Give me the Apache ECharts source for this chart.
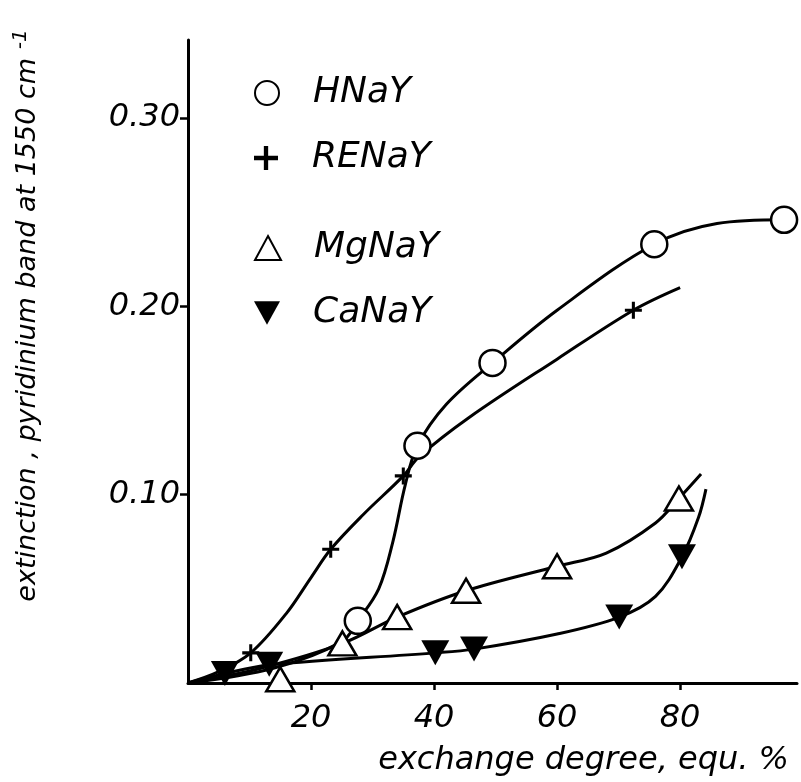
<!DOCTYPE html>
<html>
<head>
<meta charset="utf-8">
<script src="https://cdn.jsdelivr.net/npm/echarts@6/dist/echarts.min.js"></script>
<style>
  html, body { margin: 0; padding: 0; background: #fff; }
  #chart { width: 801px; height: 782px; }
</style>
</head>
<body>
<div id="chart"></div>
<script>
// measured points (exchange degree %, extinction)
const hnayPoints = [[27.6, 0.033], [37.3, 0.126], [49.5, 0.170], [75.8, 0.233], [96.9, 0.246]];
const renayPoints = [[10.2, 0.016], [23.2, 0.071], [35.0, 0.110], [72.4, 0.198]];
const mgnayPoints = [[15.0, 0.002], [25.1, 0.021], [34.0, 0.035], [45.2, 0.049], [60.0, 0.062], [79.8, 0.098]];
const canayPoints = [[6.0, 0.005], [13.2, 0.010], [40.2, 0.016], [46.5, 0.018], [70.1, 0.035], [80.3, 0.067]];

// hand drawn curves, read along the lines of the figure
const hnayCurve = [[0, 0], [14, 0.008], [25, 0.022], [27.6, 0.033], [31, 0.050], [33.3, 0.075], [35.3, 0.105], [37.3, 0.126], [42, 0.148], [49.5, 0.170], [60, 0.198], [75.8, 0.233], [86, 0.244], [96.9, 0.246]];
const renayCurve = [[0, 0], [5, 0.006], [10.2, 0.016], [16, 0.037], [20, 0.056], [23.2, 0.071], [28.5, 0.0895], [35, 0.110], [37.5, 0.120], [45.7, 0.141], [60, 0.172], [72.4, 0.198], [80, 0.210]];
const mgnayCurve = [[0, 0], [12, 0.008], [25.1, 0.021], [34, 0.035], [45.2, 0.049], [60, 0.062], [68, 0.069], [76, 0.085], [79.8, 0.098], [83.4, 0.111]];
const canayCurve = [[0, 0], [6, 0.005], [13.2, 0.0096], [40.2, 0.016], [46.5, 0.018], [60, 0.026], [70.1, 0.035], [76, 0.046], [80.3, 0.067], [83, 0.088], [84.2, 0.103]];

const xTicks = [20, 40, 60, 80];
const yTicks = [0.1, 0.2, 0.3];

const chart = echarts.init(document.getElementById('chart'));
const font = 'DejaVu Sans';

function curve(data) {
  return {
    type: 'line',
    data: data,
    smooth: 0.35,
    symbol: 'none',
    silent: true,
    z: 1,
    lineStyle: { color: '#000', width: 3 }
  };
}

function legendAt(name, icon, top) {
  return {
    left: 249,
    top: top,
    itemWidth: 26,
    itemHeight: 24,
    icon: icon,
    data: [name],
    selectedMode: false,
    textStyle: {
      fontFamily: font,
      fontStyle: 'italic',
      fontSize: 36,
      color: '#000',
      lineHeight: 30,
      padding: [0, 0, 0, 28]
    }
  };
}

const plus = 'path://M4.1,0H5.9V4.1H10V5.9H5.9V10H4.1V5.9H0V4.1H4.1Z';
const downTri = 'path://M0,0L10,0L5,9Z';

const option = {
  backgroundColor: '#fff',
  animation: false,
  grid: { left: 188, right: 4, top: 40, bottom: 99 },
  legend: [
    legendAt('HNaY', 'circle', 70),
    legendAt('RENaY', plus, 135),
    legendAt('MgNaY', 'triangle', 225),
    legendAt('CaNaY', downTri, 290)
  ],
  xAxis: {
    type: 'value',
    min: 0,
    max: 99,
    name: 'exchange degree, equ. %',
    nameLocation: 'end',
    nameGap: -8,
    nameTextStyle: {
      fontFamily: font, fontStyle: 'italic', fontSize: 32, color: '#000',
      align: 'right', verticalAlign: 'top', padding: [62, 0, 0, 0]
    },
    axisLine: { lineStyle: { color: '#000', width: 3 } },
    axisTick: { customValues: xTicks, length: 7, lineStyle: { color: '#000', width: 2.5 } },
    axisLabel: {
      customValues: xTicks, margin: 20,
      fontFamily: font, fontStyle: 'italic', fontSize: 32, color: '#000'
    },
    splitLine: { show: false }
  },
  yAxis: {
    type: 'value',
    min: 0,
    max: 0.3415,
    name: 'extinction , pyridinium band at 1550 cm {s|-1}',
    nameLocation: 'middle',
    nameGap: 143,
    nameTextStyle: {
      fontFamily: font, fontStyle: 'italic', fontSize: 27, color: '#000',
      padding: [0, 0, 0, 92],
      rich: { s: { fontFamily: font, fontStyle: 'italic', fontSize: 20, color: '#000', verticalAlign: 'top', padding: [0, 0, 14, 0] } }
    },
    axisLine: { lineStyle: { color: '#000', width: 3 } },
    axisTick: { customValues: yTicks, length: 8, lineStyle: { color: '#000', width: 2.5 } },
    axisLabel: {
      customValues: yTicks, margin: 8,
      fontFamily: font, fontStyle: 'italic', fontSize: 32, color: '#000',
      formatter: v => v.toFixed(2)
    },
    splitLine: { show: false }
  },
  series: [
    curve(hnayCurve),
    curve(renayCurve),
    curve(mgnayCurve),
    curve(canayCurve),
    {
      name: 'HNaY', type: 'scatter', data: hnayPoints, z: 3,
      symbol: 'circle', symbolSize: 26,
      itemStyle: { color: '#fff', borderColor: '#000', borderWidth: 2.5, opacity: 1 }
    },
    {
      name: 'RENaY', type: 'scatter', data: renayPoints, z: 3,
      symbol: plus, symbolSize: 17,
      itemStyle: { color: '#000', opacity: 1 }
    },
    {
      name: 'MgNaY', type: 'scatter', data: mgnayPoints, z: 3,
      symbol: 'triangle', symbolSize: [28, 24],
      itemStyle: { color: '#fff', borderColor: '#000', borderWidth: 2.5, opacity: 1 }
    },
    {
      name: 'CaNaY', type: 'scatter', data: canayPoints, z: 3,
      symbol: downTri, symbolSize: [28, 25],
      itemStyle: { color: '#000', opacity: 1 }
    }
  ]
};

chart.setOption(option);
</script>
</body>
</html>
